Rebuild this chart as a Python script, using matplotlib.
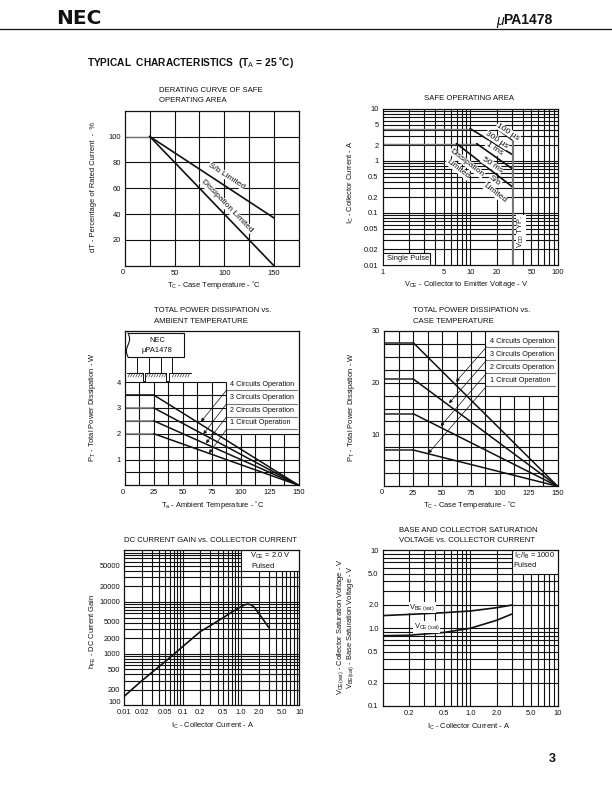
import matplotlib
import matplotlib.pyplot as plt
import numpy as np
from matplotlib.patches import Rectangle

matplotlib.use("Agg")

plt.rcParams["font.family"] = ["Liberation Sans", "DejaVu Sans"]
plt.rcParams["mathtext.fontset"] = "custom"
plt.rcParams["mathtext.rm"] = "Liberation Sans"
plt.rcParams["mathtext.it"] = "Liberation Sans:italic"
plt.rcParams["mathtext.bf"] = "Liberation Sans:bold"

W, H = 612, 792
INK = "#111111"
GREY = "#777777"
SMALL = 5.4
HEAD = 5.6
CURVE = 6.0

# derating curve
derate_temp = [25, 150]
derate_sb = [100, 37]
derate_diss = [100, 0]
derate_flat_temp = [0, 25]
derate_flat_val = [100, 100]

# safe operating area: (vce, ic) end points
soa_flat_top_v = [1, 10]
soa_flat_top_i = [4.2, 4.2]
soa_flat_low_v = [1, 12]
soa_flat_low_i = [2.15, 2.15]
soa_100us_v = [20.2, 31]
soa_100us_i = [4.2, 2.46]
soa_300us_v = [10, 31]
soa_300us_i = [4.2, 1.3]
soa_1ms_v = [11.9, 31]
soa_1ms_i = [2.15, 0.69]
soa_diss_v = [7, 31]
soa_diss_i = [2.15, 0.31]
soa_vdd_v = [31, 31]
soa_vdd_i = [0.01, 2.46]

# power dissipation
ambient_flat_temp = [0, 25]
ambient_power = [3.5, 3.0, 2.5, 2.0]
case_power = [27.7, 20.7, 14.0, 7.0]
knee_temp = 25
end_temp = 150
circuit_labels = ["4 Circuits Operation", "3 Circuits Operation",
                  "2 Circuits Operation", "1 Circuit Operation"]

# dc current gain
gain_ic = [0.01, 0.02, 0.05, 0.1, 0.2, 0.3, 0.5, 0.7, 1.0, 1.15, 1.3, 1.5, 1.7, 2.0, 2.5, 3.0]
gain_hfe = [150, 300, 700, 1365, 2660, 3500, 5000, 6400, 8100, 8800, 9100, 8800, 7900, 6100, 4300, 3200]

# saturation voltages
sat_ic = [0.1, 0.2, 0.5, 1.0, 2.0, 3.0]
sat_vbe = [1.45, 1.5, 1.58, 1.66, 1.83, 1.98]
sat_vce = [0.8, 0.81, 0.88, 0.995, 1.26, 1.52]

log_1_100 = [m * d for d in (1, 10) for m in range(1, 10)] + [100]
log_01_10 = [m * d for d in (0.01, 0.1, 1) for m in range(1, 10)] + [10]
log_gain = [m * d for d in (100, 1000, 10000) for m in range(1, 10)] + [100000]
log_sat = [m * d for d in (0.1, 1) for m in range(1, 10)] + [10]

fig = plt.figure(figsize=(W / 100, H / 100), dpi=100, facecolor="white")


def make_axes(left, top, right, bottom):
    ax = fig.add_axes([left / W, 1 - bottom / H, (right - left) / W, (bottom - top) / H])
    for spine in ax.spines.values():
        spine.set_linewidth(0.9)
        spine.set_color(INK)
    ax.tick_params(length=0, labelsize=SMALL, pad=3, colors=INK, which="both")
    ax.minorticks_off()
    return ax


def draw_grid(ax, xs, ys, top=None, cut_x=None, cut_y=None):
    """Grid lines, leaving the blank corner that holds the legend text."""
    x0, x1 = ax.get_xlim()
    y0, y1 = ax.get_ylim()
    top = y1 if top is None else top
    for x in xs:
        if cut_x is not None and x > cut_x:
            ax.vlines(x, y0, cut_y, color=INK, lw=0.8, zorder=1)
        else:
            ax.vlines(x, y0, top, color=INK, lw=0.8, zorder=1)
    for y in ys:
        if y > top:
            continue
        if cut_y is not None and y > cut_y:
            ax.hlines(y, x0, cut_x, color=INK, lw=0.8, zorder=1)
        else:
            ax.hlines(y, x0, x1, color=INK, lw=0.8, zorder=1)


def set_log(ax, xlim, ylim, xticks, xlabels, yticks, ylabels):
    ax.set_xscale("log")
    ax.set_yscale("log")
    ax.set_xlim(*xlim)
    ax.set_ylim(*ylim)
    ax.set_xticks(xticks, xlabels)
    ax.set_yticks(yticks, ylabels)
    ax.minorticks_off()


page = fig.add_axes([0, 0, 1, 1], zorder=10)
page.set_xlim(0, W)
page.set_ylim(H, 0)
page.axis("off")
page.patch.set_alpha(0)


def label(x, y, text, size=SMALL, ha="left", va="center", rot=0, box=False, **kw):
    opts = dict(boxstyle="square,pad=0.05", fc="white", ec="none") if box else None
    page.text(x, y, text, fontsize=size, ha=ha, va=va, rotation=rot, color=INK,
              rotation_mode="anchor", bbox=opts, **kw)


def leader(start, tip, end_x):
    page.plot([start[0], end_x], [start[1], start[1]], color=GREY, lw=0.8)
    page.annotate("", xy=tip, xytext=start,
                  arrowprops=dict(arrowstyle="-|>", color=INK, lw=0.5, mutation_scale=5,
                                  shrinkA=0, shrinkB=0))


# page header
page.plot([0, W], [29, 29], color=INK, lw=0.9)
label(56, 19, "NEC", size=14.5, weight="heavy", family="DejaVu Sans")
label(496, 20.5, "μ", size=10, style="italic")
label(503, 20, "PA1478", size=10, weight="bold")
label(87, 62, r"TYPICAL  CHARACTERISTICS  (T$_{\mathrm{A}}$ = 25 ˚C)", size=7.3, weight="bold")
label(549, 759, "3", size=9, weight="bold")

# derating curve
ax1 = make_axes(125, 110.7, 298.7, 265.7)
ax1.set_xlim(0, 175)
ax1.set_ylim(0, 120)
draw_grid(ax1, np.arange(25, 175, 25), np.arange(20, 120, 20))
ax1.set_xticks([50, 100, 150], ["50", "100", "150"])
ax1.set_yticks([20, 40, 60, 80, 100], ["20", "40", "60", "80", "100"])
ax1.plot(derate_flat_temp, derate_flat_val, color=GREY, lw=1.0, zorder=2)
ax1.plot(derate_temp, derate_sb, color=INK, lw=1.2, zorder=3)
ax1.plot(derate_temp, derate_diss, color=INK, lw=1.2, zorder=3)
label(122.7, 272.7, "0", ha="center")
label(159, 91, "DERATING CURVE OF SAFE", size=HEAD)
label(159, 101, "OPERATING AREA", size=HEAD)
label(93.3, 186.7, "dT - Percentage of Rated Current  -  %", ha="center", rot=90)
label(214.3, 285, r"T$_{\mathrm{C}}$ - Case Temperature - ˚C", ha="center")
label(226.7, 176, "S/b Limited", size=CURVE, ha="center", rot=-33, box=True)
label(226.7, 206, "Dissipation Limited", size=CURVE, ha="center", rot=-46, box=True)

# safe operating area
ax2 = make_axes(382.7, 109, 557.7, 265)
set_log(ax2, (1, 100), (0.01, 10),
        [1, 5, 10, 20, 50, 100], ["1", "5", "10", "20", "50", "100"],
        [0.01, 0.02, 0.05, 0.1, 0.2, 0.5, 1, 2, 5, 10],
        ["0.01", "0.02", "0.05", "0.1", "0.2", "0.5", "1", "2", "5", "10"])
draw_grid(ax2, log_1_100[1:-1], log_01_10[1:-1])
ax2.plot(soa_flat_top_v, soa_flat_top_i, color=GREY, lw=1.0, zorder=2)
ax2.plot(soa_flat_low_v, soa_flat_low_i, color=GREY, lw=1.0, zorder=2)
for vs, cs in [(soa_100us_v, soa_100us_i), (soa_300us_v, soa_300us_i),
               (soa_1ms_v, soa_1ms_i), (soa_diss_v, soa_diss_i)]:
    ax2.plot(vs, cs, color=INK, lw=1.2, zorder=3)
ax2.plot(soa_vdd_v, soa_vdd_i, color=GREY, lw=1.4, zorder=3)
ax2.add_patch(Rectangle((1, 0.01), 2.5, 0.0072, fc="white", ec=INK, lw=0.8, zorder=4))
label(424.3, 98.7, "SAFE OPERATING AREA", size=HEAD)
label(386.7, 258.5, "Single Pulse")
label(350.7, 182, r"I$_{\mathrm{C}}$ - Collector Current - A", ha="center", rot=90)
label(465.7, 284, r"V$_{\mathrm{CE}}$ - Collector to Emitter Voltage - V", ha="center")
label(521, 232, r"V$_{\mathrm{DD}}$ TYP.", ha="center", rot=90, box=True)
for x, y, text, rot in [(508, 132, "100 μs", -33), (497, 140, "300 μs", -33),
                        (494, 149, "1 ms", -33), (492, 165, "50 ms", -33),
                        (495, 181, "S/b", -38), (495, 193, "Limited", -38),
                        (466.7, 163, "Dissipation", -38), (458, 169, "Limited", -38)]:
    label(x, y, text, size=CURVE, ha="center", rot=rot, box=True)

# power dissipation vs ambient
ax3 = make_axes(125, 330.7, 298.7, 485.3)
ax3.set_xlim(0, 150)
ax3.set_ylim(0, 6)
draw_grid(ax3, np.arange(12.5, 150, 12.5), np.arange(0.5, 4.5, 0.5), top=4, cut_x=87.5, cut_y=2)
ax3.set_xticks(np.arange(25, 175, 25), ["25", "50", "75", "100", "125", "150"])
ax3.set_yticks([1, 2, 3, 4], ["1", "2", "3", "4"])
for i, p in enumerate(ambient_power):
    ax3.plot(ambient_flat_temp, [p, p], color=INK if i == 0 else GREY, lw=1.1, zorder=2)
    ax3.plot([knee_temp, end_temp], [p, 0], color=INK, lw=1.1, zorder=3)
label(122.7, 492.3, "0", ha="center")
label(154.3, 311, "TOTAL POWER DISSIPATION vs.", size=HEAD)
label(154.3, 321.3, "AMBIENT TEMPERATURE", size=HEAD)
label(92.7, 406.7, r"P$_{\mathrm{T}}$ - Total Power Dissipation - W", ha="center", rot=90)
label(212.7, 505, r"T$_{\mathrm{a}}$ - Ambient Temperature - ˚C", ha="center")
for y, text in zip([384.3, 397.3, 410.3, 423], circuit_labels):
    label(230, y, text, size=5.2)
for start_y, tip in zip([390, 403.5, 416.5, 429],
                        [(201, 421.7), (203.3, 434.3), (206, 443.3), (209, 453.3)]):
    leader((226.7, start_y), tip, 296.5)

# package sketch in the corner of the ambient chart
wave_y = np.linspace(333, 357, 25)
page.plot(128 + 1.6 * np.sin((wave_y - 333) / 24 * 2 * np.pi), wave_y, color=INK, lw=0.8)
page.plot([128, 184, 184, 128], [333, 333, 357, 357], color=INK, lw=0.8)
label(157, 341, "NEC", ha="center")
label(157, 351, "μPA1478", ha="center")
for pin_x in [137.3, 149.3, 160.7, 172.3]:
    page.plot([pin_x, pin_x], [357, 373], color=INK, lw=0.7)
page.plot([127, 142.5, 142.5, 145, 145, 165.7, 165.7, 168.7, 168.7, 190.7],
          [373, 373, 380.5, 380.5, 373, 373, 380.5, 380.5, 373, 373], color=INK, lw=0.7)
for hatch_x in np.arange(128, 190, 2.6):
    if 141 < hatch_x < 146 or 164.5 < hatch_x < 170:
        continue
    page.plot([hatch_x, hatch_x + 2], [377, 373], color=INK, lw=0.4)

# power dissipation vs case
ax4 = make_axes(384.3, 330.7, 557.7, 486.3)
ax4.set_xlim(0, 150)
ax4.set_ylim(0, 30)
draw_grid(ax4, np.arange(12.5, 150, 12.5), np.arange(2.5, 30, 2.5), cut_x=87.5, cut_y=17.5)
ax4.set_xticks(np.arange(25, 175, 25), ["25", "50", "75", "100", "125", "150"])
ax4.set_yticks([10, 20, 30], ["10", "20", "30"])
for p in case_power:
    ax4.plot(ambient_flat_temp, [p, p], color="#444444", lw=1.3, zorder=2)
    ax4.plot([knee_temp, end_temp], [p, 0], color=INK, lw=1.1, zorder=3)
label(381.7, 492.7, "0", ha="center")
label(412.7, 311, "TOTAL POWER DISSIPATION vs.", size=HEAD)
label(412.7, 321.3, "CASE TEMPERATURE", size=HEAD)
label(351.7, 406.7, r"P$_{\mathrm{T}}$ - Total Power Dissipation - W", ha="center", rot=90)
label(470, 505, r"T$_{\mathrm{C}}$ - Case Temperature - ˚C", ha="center")
for y, text in zip([341.7, 354.7, 367.7, 381], circuit_labels):
    label(490, y, text, size=5.2)
for start_y, tip in zip([346.7, 360, 373, 386],
                        [(456, 381.7), (449, 403.3), (440.7, 426), (428.3, 453.3)]):
    leader((486.7, start_y), tip, 555)

# dc current gain
ax5 = make_axes(124.3, 550.3, 299.3, 705.3)
set_log(ax5, (0.01, 10), (100, 100000),
        [0.01, 0.02, 0.05, 0.1, 0.2, 0.5, 1, 2, 5, 10],
        ["0.01", "0.02", "0.05", "0.1", "0.2", "0.5", "1.0", "2.0", "5.0", "10"],
        [200, 500, 1000, 2000, 10000, 20000, 50000],
        ["200", "500", "1000", "2000", "10000", "20000", "50000"])
draw_grid(ax5, log_01_10[1:-1], log_gain[1:-1], cut_x=1, cut_y=40000)
ax5.plot(gain_ic, gain_hfe, color=INK, lw=1.2, zorder=3)
label(124.3, 541, "DC CURRENT GAIN vs. COLLECTOR CURRENT", size=HEAD)
label(92.7, 631.7, r"h$_{\mathrm{FE}}$ - DC Current Gain", ha="center", rot=90)
label(212.7, 725.7, r"I$_{\mathrm{C}}$ - Collector Current - A", ha="center")
label(120.5, 622.5, "5000", ha="right")
label(120.5, 702.5, "100", ha="right")
label(250, 556, r"V$_{\mathrm{CE}}$ = 2.0 V")
label(251, 566.7, "Pulsed")

# saturation voltage
ax6 = make_axes(382.7, 550.3, 557.7, 706)
set_log(ax6, (0.1, 10), (0.1, 10),
        [0.2, 0.5, 1, 2, 5, 10], ["0.2", "0.5", "1.0", "2.0", "5.0", "10"],
        [0.1, 0.2, 0.5, 1, 2, 5, 10], ["0.1", "0.2", "0.5", "1.0", "2.0", "5.0", "10"])
draw_grid(ax6, log_sat[1:-1], log_sat[1:-1], cut_x=3, cut_y=5)
ax6.plot(sat_ic, sat_vbe, color=INK, lw=1.2, zorder=3)
ax6.plot(sat_ic, sat_vce, color=INK, lw=1.2, zorder=3)
label(399.3, 531, "BASE AND COLLECTOR SATURATION", size=HEAD)
label(399.3, 541, "VOLTAGE vs. COLLECTOR CURRENT", size=HEAD)
label(340.7, 626.7, r"V$_{\mathrm{CE(sat)}}$ - Collector Saturation Voltage - V", ha="center", rot=90)
label(350.7, 626.7, r"V$_{\mathrm{BE(sat)}}$ - Base Saturation Voltage - V", ha="center", rot=90)
label(469, 726.7, r"I$_{\mathrm{C}}$ - Collector Current - A", ha="center")
label(422.3, 607.5, r"V$_{\mathrm{BE\ (sat)}}$", ha="center", box=True)
label(426.7, 627, r"V$_{\mathrm{CE\ (sat)}}$", ha="center", box=True)
label(513.7, 556, r"I$_{\mathrm{C}}$/I$_{\mathrm{B}}$ = 1000")
label(513.7, 565.7, "Pulsed")

fig.savefig("out.png", dpi=100)
plt.close(fig)
